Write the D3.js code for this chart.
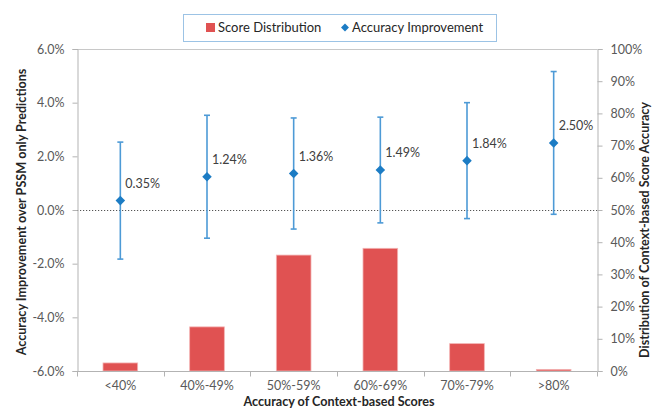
<!DOCTYPE html>
<html>
<head>
<meta charset="utf-8">
<script src="https://cdn.jsdelivr.net/npm/d3@7/dist/d3.min.js"></script>
<style>
  html, body { margin: 0; padding: 0; background: #fff; }
  svg { display: block; font-family: Lato, "Open Sans", sans-serif; }
</style>
</head>
<body>
<svg id="chart" width="652" height="410"></svg>
<script>
// Score-accuracy bins
const categories = ["<40%", "40%-49%", "50%-59%", "60%-69%", "70%-79%", ">80%"];
// Share of predictions in each bin (right axis, %)
const distribution = [2.5, 13.7, 36.0, 38.1, 8.5, 0.5];
// Mean accuracy improvement over PSSM-only predictions (left axis, %)
const improvement = [0.35, 1.24, 1.36, 1.49, 1.84, 2.50];
// Error bar half-widths (%)
const errorHalf = [2.18, 2.29, 2.07, 1.97, 2.16, 2.66];
// Axis tick values
const leftTicks = [-6, -4, -2, 0, 2, 4, 6];
const rightTicks = [0, 10, 20, 30, 40, 50, 60, 70, 80, 90, 100];

const svg = d3.select("#chart");
const plot = { left: 77, right: 597, top: 49, bottom: 371 };
const axisColor = "#b3b3b3";
const textColor = "#595959";

const x = d3.scaleBand().domain(categories).range([plot.left, plot.right]);
const yLeft = d3.scaleLinear().domain([-6, 6]).range([plot.bottom, plot.top]);
const yRight = d3.scaleLinear().domain([0, 100]).range([plot.bottom, plot.top]);

// Bars: score distribution
const barW = x.bandwidth() * 0.4;
svg.append("g").selectAll("rect")
  .data(categories)
  .join("rect")
  .attr("x", (d) => x(d) + (x.bandwidth() - barW) / 2)
  .attr("y", (d, i) => yRight(distribution[i]))
  .attr("width", barW)
  .attr("height", (d, i) => yRight(0) - yRight(distribution[i]))
  .attr("fill", "#e05252")
  .attr("stroke", "#f3b3b3")
  .attr("stroke-width", 0.8);

// Plot frame: top line
svg.append("line")
  .attr("x1", plot.left).attr("x2", plot.right)
  .attr("y1", plot.top + 0.5).attr("y2", plot.top + 0.5)
  .attr("stroke", "#c8c8c8").attr("stroke-width", 1);

// Zero reference line
svg.append("line")
  .attr("x1", plot.left).attr("x2", plot.right)
  .attr("y1", Math.round(yLeft(0)) + 0.5).attr("y2", Math.round(yLeft(0)) + 0.5)
  .attr("stroke", "#555").attr("stroke-width", 1)
  .attr("stroke-dasharray", "1.2,1.8");

// Left axis
const gL = svg.append("g").attr("transform", `translate(${plot.left + 0.5},0)`)
  .call(d3.axisLeft(yLeft).tickValues(leftTicks).tickSize(5).tickPadding(8)
    .tickFormat((d) => d.toFixed(1) + "%"));
// Right axis
const gR = svg.append("g").attr("transform", `translate(${plot.right + 0.5},0)`)
  .call(d3.axisRight(yRight).tickValues(rightTicks).tickSize(5).tickPadding(8)
    .tickFormat((d) => d + "%"));
// Bottom axis with ticks at category boundaries
const gB = svg.append("g").attr("transform", `translate(0,${plot.bottom + 0.5})`)
  .call(d3.axisBottom(x).tickSize(0).tickPadding(10));
gB.selectAll(".boundary")
  .data(d3.range(categories.length + 1))
  .join("line")
  .attr("class", "boundary")
  .attr("x1", (i) => Math.round(plot.left + i * x.step()) + 0.5)
  .attr("x2", (i) => Math.round(plot.left + i * x.step()) + 0.5)
  .attr("y1", 0).attr("y2", 5)
  .attr("stroke", axisColor);

[gL, gR, gB].forEach((g) => {
  g.select(".domain").attr("stroke", axisColor);
  g.selectAll(".tick line").attr("stroke", axisColor);
  g.selectAll("text").attr("fill", textColor).style("font-size", "12.5px")
    .style("font-family", "Lato, sans-serif");
});
gB.select(".domain").attr("d", `M${plot.left},0H${plot.right}`);

// Error bars
const errColor = "#4d9ad6";
const eg = svg.append("g");
categories.forEach((c, i) => {
  const cx = x(c) + x.bandwidth() / 2;
  const y1 = yLeft(improvement[i] + errorHalf[i]);
  const y2 = yLeft(improvement[i] - errorHalf[i]);
  eg.append("line").attr("x1", cx).attr("x2", cx).attr("y1", y1).attr("y2", y2)
    .attr("stroke", errColor).attr("stroke-width", 1.6);
  [y1, y2].forEach((yy) => {
    eg.append("line").attr("x1", cx - 3).attr("x2", cx + 3).attr("y1", yy).attr("y2", yy)
      .attr("stroke", errColor).attr("stroke-width", 1.6);
  });
});

// Diamonds for accuracy improvement
const diamond = d3.symbol().type(d3.symbolDiamond2).size(58);
svg.append("g").selectAll("path")
  .data(categories)
  .join("path")
  .attr("d", diamond)
  .attr("transform", (d, i) => `translate(${x(d) + x.bandwidth() / 2},${yLeft(improvement[i])})`)
  .attr("fill", "#1c7cc4");

// Value labels
svg.append("g").selectAll("text")
  .data(categories)
  .join("text")
  .attr("x", (d) => x(d) + x.bandwidth() / 2 + 5)
  .attr("y", (d, i) => yLeft(improvement[i]) - 13)
  .attr("fill", "#404040")
  .style("font-size", "12.5px")
  .text((d, i) => improvement[i].toFixed(2) + "%");

// Axis titles
const titleStyle = (t) => t.attr("fill", "#262626").style("font-size", "12.6px").style("font-weight", "bold");
svg.append("text")
  .attr("transform", `translate(23,212) rotate(-90)`)
  .attr("text-anchor", "middle").attr("dominant-baseline", "middle")
  .call(titleStyle)
  .text("Accuracy Improvement over PSSM only Predictions");
svg.append("text")
  .attr("transform", `translate(646,230) rotate(-90)`)
  .attr("text-anchor", "middle").attr("dominant-baseline", "middle")
  .call(titleStyle)
  .text("Distribution of Context-based Score Accuracy");
svg.append("text")
  .attr("x", 339).attr("y", 406)
  .attr("text-anchor", "middle")
  .call(titleStyle)
  .text("Accuracy of Context-based Scores");

// Legend
const lg = svg.append("g");
lg.append("rect").attr("x", 183.5).attr("y", 14.5).attr("width", 313).attr("height", 27)
  .attr("fill", "#fff").attr("stroke", "#9cc3e5").attr("stroke-width", 1);
lg.append("rect").attr("x", 206).attr("y", 23).attr("width", 9).attr("height", 9)
  .attr("fill", "#e05252");
lg.append("text").attr("x", 218).attr("y", 32).attr("fill", "#262626")
  .style("font-size", "13px").text("Score Distribution");
lg.append("path").attr("d", diamond.size(40)).attr("transform", "translate(345,27.5)")
  .attr("fill", "#1c7cc4");
lg.append("text").attr("x", 352).attr("y", 32).attr("fill", "#262626")
  .style("font-size", "13px").text("Accuracy Improvement");
</script>
</body>
</html>
